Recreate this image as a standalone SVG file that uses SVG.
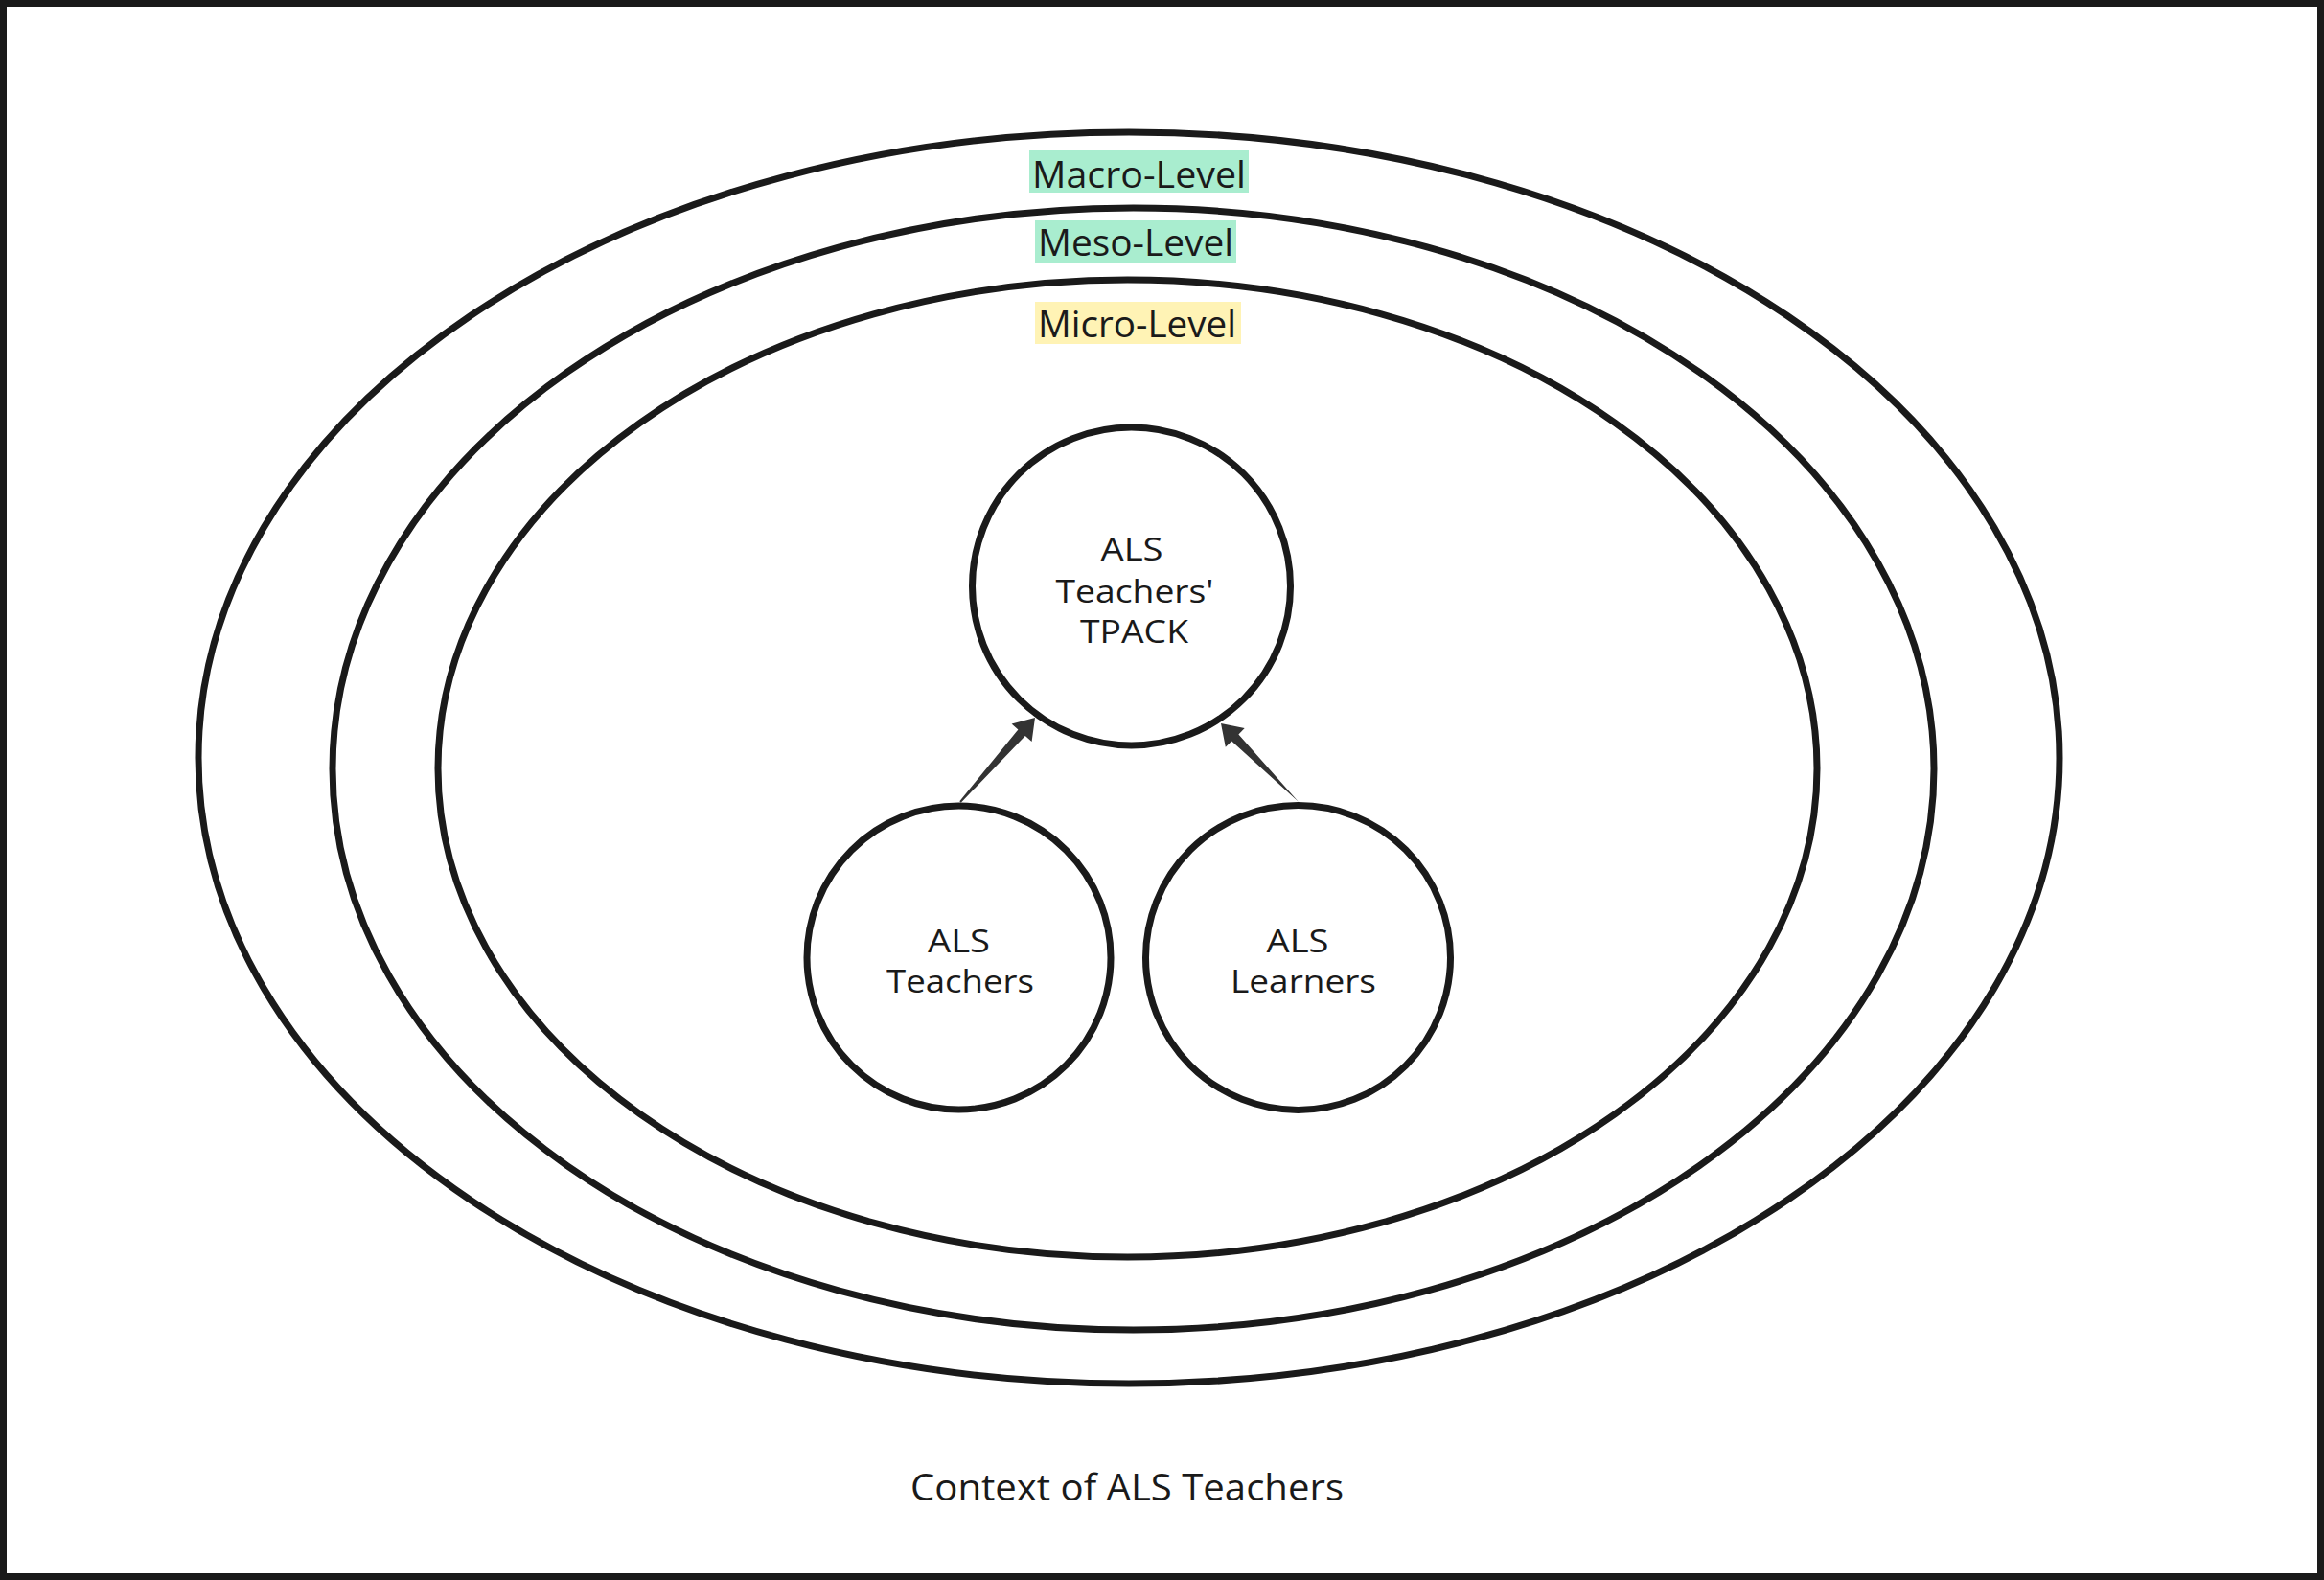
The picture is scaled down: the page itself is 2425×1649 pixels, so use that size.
<svg xmlns="http://www.w3.org/2000/svg" width="2425" height="1649" viewBox="0 0 2425 1649">
<defs>
<style>
.ring{fill:none;stroke:#1a1a1a;stroke-width:7}
.node{fill:#ffffff;stroke:#1a1a1a;stroke-width:7}
.lbl{font-family:"Open Sans","Liberation Sans",sans-serif;font-weight:500;fill:#1a1a1a;text-anchor:middle}
.big{font-size:39px}
.mid{font-size:33px}
.arrow{fill:#333333;stroke:none}
</style>
</defs>
<rect x="0" y="0" width="2425" height="1649" fill="#ffffff"/>
<rect x="3.5" y="3.5" width="2418" height="1642" fill="none" stroke="#1a1a1a" stroke-width="7"/>

<g id="macro-level">
<ellipse class="ring" cx="1178" cy="791" rx="971" ry="653"/>
<rect x="1074" y="157" width="229" height="44" fill="#a9edcf"/>
<text class="lbl big" x="1188.5" y="195.5" textLength="223" lengthAdjust="spacingAndGlyphs">Macro-Level</text>
</g>

<g id="meso-level">
<ellipse class="ring" cx="1182.5" cy="802.5" rx="835.5" ry="585.5"/>
<rect x="1080" y="230" width="210" height="44" fill="#a9edcf"/>
<text class="lbl big" x="1185" y="267" textLength="204" lengthAdjust="spacingAndGlyphs">Meso-Level</text>
</g>

<g id="micro-level">
<ellipse class="ring" cx="1176.5" cy="802" rx="719.5" ry="510"/>
<rect x="1080" y="315" width="215" height="44" fill="#fff3b5"/>
<text class="lbl big" x="1186.5" y="351.5" textLength="207" lengthAdjust="spacingAndGlyphs">Micro-Level</text>
</g>

<g id="tpack">
<circle class="node" cx="1180.5" cy="612" r="166"/>
<text class="lbl mid" x="1181" y="585" textLength="65" lengthAdjust="spacingAndGlyphs">ALS</text>
<text class="lbl mid" x="1184" y="629" textLength="165" lengthAdjust="spacingAndGlyphs">Teachers'</text>
<text class="lbl mid" x="1183.5" y="671" textLength="113" lengthAdjust="spacingAndGlyphs">TPACK</text>
</g>

<g id="teachers">
<circle class="node" cx="1000.5" cy="999.5" r="158.5"/>
<text class="lbl mid" x="1000.5" y="994" textLength="65" lengthAdjust="spacingAndGlyphs">ALS</text>
<text class="lbl mid" x="1002" y="1036" textLength="154" lengthAdjust="spacingAndGlyphs">Teachers</text>
</g>

<g id="learners">
<circle class="node" cx="1354.5" cy="999.5" r="159"/>
<text class="lbl mid" x="1354" y="994" textLength="65" lengthAdjust="spacingAndGlyphs">ALS</text>
<text class="lbl mid" x="1360" y="1036" textLength="152" lengthAdjust="spacingAndGlyphs">Learners</text>
</g>

<g id="connectors">
<polygon class="arrow" points="1001.3,836.3 1002.7,837.7 1069.8,768 1076.6,774 1080,749 1055.6,755.4 1062.4,761.4"/>
<polygon class="arrow" points="1355.7,837.7 1354.3,836.3 1285.2,773.4 1278.8,779.7 1274,755 1298.7,760.1 1292.4,766.4"/>
</g>

<g id="caption">
<text class="lbl big" x="1176" y="1566" textLength="452" lengthAdjust="spacingAndGlyphs">Context of ALS Teachers</text>
</g>
</svg>
